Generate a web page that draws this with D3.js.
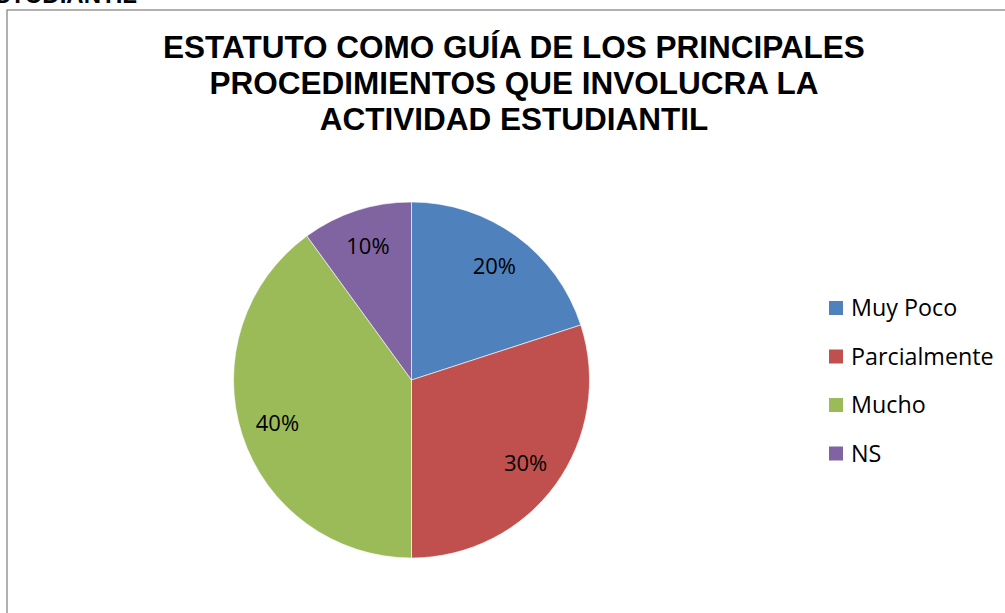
<!DOCTYPE html>
<html>
<head>
<meta charset="utf-8">
<script src="https://cdn.jsdelivr.net/npm/d3@7"></script>
<style>
  body { margin: 0; background: #fff; }
  svg { display: block; }
</style>
</head>
<body>
<svg id="chart" width="1005" height="613"></svg>
<script>
// valores
const categories = ["Muy Poco", "Parcialmente", "Mucho", "NS"];
const values = [20, 30, 40, 10];
const colors = ["#4f81bd", "#c0504d", "#9bbb59", "#8064a2"];
const titleLines = ["ESTATUTO COMO GUÍA DE LOS PRINCIPALES",
                    "PROCEDIMIENTOS QUE INVOLUCRA LA",
                    "ACTIVIDAD ESTUDIANTIL"];

let width = 1005,
    height = 613;

let svg = d3.select("#chart");

// texto cortado del encabezado del documento
svg.append("text")
    .attr("x", 137).attr("y", 3)
    .attr("text-anchor", "end")
    .attr("font-family", "Liberation Sans, Arial, sans-serif")
    .attr("font-weight", "bold")
    .attr("font-size", 24)
    .text("ESTUDIANTIL");

// borde del area del grafico
svg.append("rect")
    .attr("x", 7).attr("y", 10)
    .attr("width", 1020).attr("height", 640)
    .attr("fill", "#fff")
    .attr("stroke", "#888")
    .attr("stroke-width", 1.3);

svg.append("g").selectAll("text")
    .data(titleLines)
    .join("text")
    .attr("x", 514)
    .attr("y", (d, i) => 58 + i * 36)
    .attr("text-anchor", "middle")
    .attr("font-family", "Liberation Sans, Arial, sans-serif")
    .attr("font-weight", "bold")
    .attr("font-size", 31.5)
    .attr("fill", "#000")
    .text(d => d);

let cx = 411.5, cy = 380, r = 178;

let pie = d3.pie().sort(null).value(d => d.value);
let arcs = pie(categories.map((c, i) => ({ name: c, value: values[i] })));
let total = d3.sum(values);

let arc = d3.arc().innerRadius(0).outerRadius(r);
let labelArc = d3.arc().innerRadius(141).outerRadius(141);

let color = d3.scaleOrdinal().domain(categories).range(colors);

let g = svg.append("g").attr("transform", `translate(${cx},${cy})`);

g.selectAll("path")
    .data(arcs)
    .join("path")
    .attr("d", arc)
    .attr("fill", d => color(d.data.name))
    .attr("stroke", "#fff")
    .attr("stroke-width", 0.6);

g.selectAll("text")
    .data(arcs)
    .join("text")
    .attr("transform", d => `translate(${labelArc.centroid(d)})`)
    .attr("text-anchor", "middle")
    .attr("dy", "0.36em")
    .attr("font-family", "Open Sans, sans-serif")
    .attr("font-size", 22)
    .attr("fill", "#000")
    .text(d => Math.round(d.data.value / total * 100) + "%");

// leyenda
let legend = svg.append("g").attr("transform", "translate(829,308)");
let rows = legend.selectAll("g")
    .data(categories)
    .join("g")
    .attr("transform", (d, i) => `translate(0,${i * 48.5})`);

rows.append("rect")
    .attr("x", 0).attr("y", -7)
    .attr("width", 14).attr("height", 14)
    .attr("fill", d => color(d));

rows.append("text")
    .attr("x", 22)
    .attr("dy", "0.36em")
    .attr("font-family", "Open Sans, sans-serif")
    .attr("font-size", 23.3)
    .attr("fill", "#000")
    .text(d => d);
</script>
</body>
</html>
